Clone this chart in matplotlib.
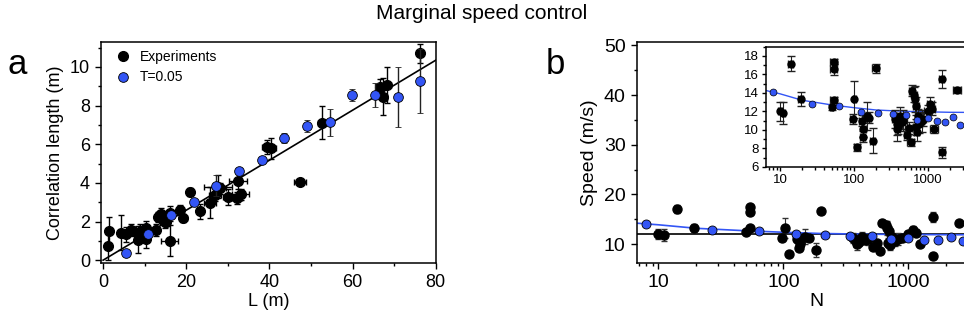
from matplotlib import pyplot as plt
from matplotlib.ticker import MultipleLocator, LogLocator, NullFormatter
import numpy as np

plt.rcParams['font.family'] = ['Liberation Sans', 'DejaVu Sans']

BLUE = '#3355f5'

# ---------------- panel a data ----------------
L_exp = [1.2, 1.4, 4.4, 5.6, 6.8, 7.2, 8.4, 8.8, 9.6, 10.4, 10.4, 12.8, 13.2, 13.6,
         14.0, 14.4, 14.8, 15.2, 16.0, 16.2, 18.5, 19.3, 20.9, 23.4, 25.7, 26.9,
         27.7, 28.1, 30.1, 32.3, 32.5, 33.1, 39.3, 40.5, 47.3, 52.6, 66.6, 67.4,
         68.2, 76.2]
C_exp = [0.72, 1.5, 1.43, 1.34, 1.55, 1.5, 1.07, 1.47, 1.45, 1.69, 1.12, 1.55, 2.24,
         2.33, 2.41, 2.07, 1.98, 1.99, 1.0, 2.42, 2.59, 2.19, 3.54, 2.53, 2.98, 3.36,
         3.8, 3.71, 3.28, 3.22, 4.09, 3.40, 5.87, 5.79, 4.06, 7.12, 8.98, 8.46,
         9.07, 10.7]
C_exp_err = [0.7, 0.75, 0.9, 0.4, 0.3, 0.2, 0.7, 0.4, 0.3, 0.35, 0.5, 0.3, 0.25, 0.2,
             0.3, 0.2, 0.3, 0.2, 0.8, 0.4, 0.25, 0.2, 0.2, 0.4, 0.8, 0.3, 0.6, 0.3,
             0.4, 0.3, 0.4, 0.3, 0.35, 0.55, 0.15, 0.85, 0.4, 0.95, 0.95, 0.5]
L_exp_err = [0.3, 0.3, 0.5, 0.5, 0.5, 0.5, 0.8, 0.5, 0.5, 1.8, 0.5, 0.5, 0.6, 0.6,
             0.6, 0.6, 0.6, 0.6, 2.0, 0.6, 0.8, 0.8, 0.6, 0.6, 1.5, 1.5, 3.4, 1.5,
             1.2, 1.2, 2.2, 2.0, 1.2, 1.2, 1.5, 1.0, 1.0, 1.0, 1.0, 0.6]

L_sim = [5.45, 10.9, 16.35, 21.8, 27.25, 32.7, 38.15, 43.6, 49.05, 54.5, 59.95,
         65.4, 70.85, 76.3]
C_sim = [0.35, 1.35, 2.33, 3.02, 3.85, 4.63, 5.18, 6.34, 6.96, 7.15, 8.55, 8.55,
         8.46, 9.29]
C_sim_err = [0.1, 0.1, 0.1, 0.1, 0.55, 0.15, 0.1, 0.25, 0.3, 0.7, 0.3, 0.6, 1.55, 1.65]

fit_L = [0, 80]
fit_C = [0, 10.35]

# ---------------- panel b data ----------------
N_exp = [10, 11.1, 14.0, 19.1, 50, 54, 54, 54, 97, 102, 110, 129, 133, 135, 150, 160,
         181, 199, 363, 381, 389, 400, 427, 450, 472, 523, 560, 593, 612, 661, 670,
         690, 703, 710, 740, 778, 830, 880, 1000, 1090, 1150, 1236, 1566, 1566, 2550]
S_exp = [12.0, 11.82, 17.17, 13.33, 12.43, 13.22, 17.39, 16.56, 11.17, 13.33, 8.12,
         11.0, 9.27, 10.1, 11.53, 11.3, 8.84, 16.67, 11.17, 10.6, 10.1, 10.4, 11.53,
         10.9, 11.0, 9.48, 10.2, 8.66, 14.23, 13.8, 13.3, 10.3, 12.6, 9.8, 11.5,
         10.6, 11.0, 11.17, 12.0, 12.79, 12.3, 10.1, 15.48, 7.58, 14.3]
S_exp_err = [1.0, 1.2, 0.8, 0.8, 0.3, 0.3, 0.3, 0.6, 0.5, 2.0, 0.4, 0.6, 0.6, 0.9,
             1.5, 0.6, 1.4, 0.5, 1.0, 1.2, 1.3, 0.8, 0.9, 0.8, 1.1, 0.6, 0.7, 0.4,
             0.6, 0.8, 1.4, 0.9, 1.0, 1.0, 0.8, 0.9, 1.2, 0.8, 0.7, 0.8, 0.7, 0.4,
             1.0, 0.6, 0.3]
N_exp_err = [0.5, 0.5, 1.0, 1.5, 3, 6, 6, 6, 8, 5, 10, 10, 10, 10, 15, 12, 15, 20,
             30, 30, 30, 40, 40, 40, 50, 50, 60, 60, 50, 60, 60, 60, 60, 60, 70, 70,
             70, 80, 100, 120, 120, 150, 120, 150, 300]

N_sim = [8, 27, 64, 125, 216, 343, 512, 729, 1000, 1331, 1728, 2197, 2744]
S_sim = [14.05, 12.79, 12.61, 11.96, 11.86, 11.71, 11.57, 11.1, 11.28, 10.92, 10.89,
         11.35, 10.56]

curve_N = [6.5, 10, 20, 50, 100, 200, 500, 1000, 2000, 5000]
curve_S = [14.25, 13.9, 13.2, 12.7, 12.4, 12.15, 12.0, 11.95, 11.9, 11.88]

const_N = [5, 6000]
const_S = [12.0, 12.0]


def style_axes(ax, labelsize):
    ax.tick_params(which='both', direction='out', width=1, labelsize=labelsize, pad=3.5)
    ax.tick_params(which='major', length=4.5)
    ax.tick_params(which='minor', length=2.5)
    for s in ax.spines.values():
        s.set_linewidth(1.1)


fig = plt.figure(figsize=(9.64, 3.22), dpi=100)
fig.text(0.5, 0.958, 'Marginal speed control', ha='center', va='center', fontsize=15)

# ---------------- panel a ----------------
ax1 = fig.add_axes([0.1048, 0.183, 0.3472, 0.687])
ax1.plot(fit_L, fit_C, color='black', lw=1.2, zorder=1)
ax1.errorbar(L_exp, C_exp, yerr=C_exp_err, xerr=L_exp_err, fmt='o', color='black',
             ms=7, mec='black', ecolor='black', elinewidth=1, capsize=2.5, zorder=2,
             label='Experiments')
ax1.errorbar(L_sim, C_sim, yerr=C_sim_err, fmt='o', color=BLUE, ms=7, mec='black',
             mew=0.6, ecolor='#222222', elinewidth=1, capsize=2.5, zorder=3,
             label='T=0.05')
ax1.set_xlim(-0.5, 80)
ax1.set_ylim(-0.15, 11.3)
ax1.xaxis.set_major_locator(MultipleLocator(20))
ax1.xaxis.set_minor_locator(MultipleLocator(10))
ax1.yaxis.set_major_locator(MultipleLocator(2))
ax1.yaxis.set_minor_locator(MultipleLocator(1))
style_axes(ax1, 13)
ax1.set_xlabel('L (m)', fontsize=13, labelpad=1)
ax1.set_ylabel('Correlation length (m)', fontsize=13, labelpad=4)
h, l = ax1.get_legend_handles_labels()
h = [hh[0] for hh in h]
ax1.legend(h, l, loc='upper left', frameon=False, fontsize=10, handletextpad=0.2,
           borderaxespad=0.2, labelspacing=0.45)
fig.text(0.008, 0.80, 'a', fontsize=25, ha='left', va='center')

# ---------------- panel b ----------------
ax2 = fig.add_axes([0.6605, 0.183, 0.3725, 0.687])
ax2.plot(const_N, const_S, color='black', lw=1.2, zorder=1)
ax2.plot(curve_N, curve_S, color=BLUE, lw=1.2, zorder=1)
ax2.errorbar(N_exp, S_exp, yerr=S_exp_err, fmt='o', color='black', ms=6.5,
             ecolor='#333333', elinewidth=0.8, capsize=2.5, zorder=2)
ax2.plot(N_sim, S_sim, 'o', color=BLUE, ms=6.5, mec='black', mew=0.6, zorder=3)
ax2.set_xscale('log')
ax2.set_xlim(6.7, 5000)
ax2.set_ylim(6.2, 50.7)
ax2.yaxis.set_major_locator(MultipleLocator(10))
ax2.yaxis.set_minor_locator(MultipleLocator(5))
ax2.xaxis.set_minor_locator(LogLocator(base=10, subs=np.arange(2, 10)))
ax2.xaxis.set_minor_formatter(NullFormatter())
ax2.set_xticks([10, 100, 1000])
ax2.set_xticklabels(['10', '100', '1000'])
style_axes(ax2, 14)
ax2.set_xlabel('N', fontsize=14, labelpad=1)
ax2.set_ylabel('Speed (m/s)', fontsize=14, labelpad=4)
fig.text(0.566, 0.80, 'b', fontsize=25, ha='left', va='center')

# ---------------- inset ----------------
ax3 = fig.add_axes([0.7946, 0.482, 0.221, 0.373])
ax3.plot(curve_N, curve_S, color=BLUE, lw=1.0, zorder=1)
ax3.errorbar(N_exp, S_exp, yerr=S_exp_err, xerr=N_exp_err, fmt='o', color='black',
             ms=5, ecolor='#222222', elinewidth=0.8, capsize=3, zorder=2)
ax3.plot(N_sim, S_sim, 'o', color=BLUE, ms=5, mec='black', mew=0.5, zorder=3)
ax3.set_xscale('log')
ax3.set_xlim(6.45, 5000)
ax3.set_ylim(6, 19)
ax3.yaxis.set_major_locator(MultipleLocator(2))
ax3.yaxis.set_minor_locator(MultipleLocator(1))
ax3.xaxis.set_minor_locator(LogLocator(base=10, subs=np.arange(2, 10)))
ax3.xaxis.set_minor_formatter(NullFormatter())
ax3.set_xticks([10, 100, 1000])
ax3.set_xticklabels(['10', '100', '1000'])
style_axes(ax3, 9.5)
ax3.tick_params(which='major', length=3, pad=2.5)
ax3.tick_params(which='minor', length=2)

fig.savefig('out.png', dpi=100)
